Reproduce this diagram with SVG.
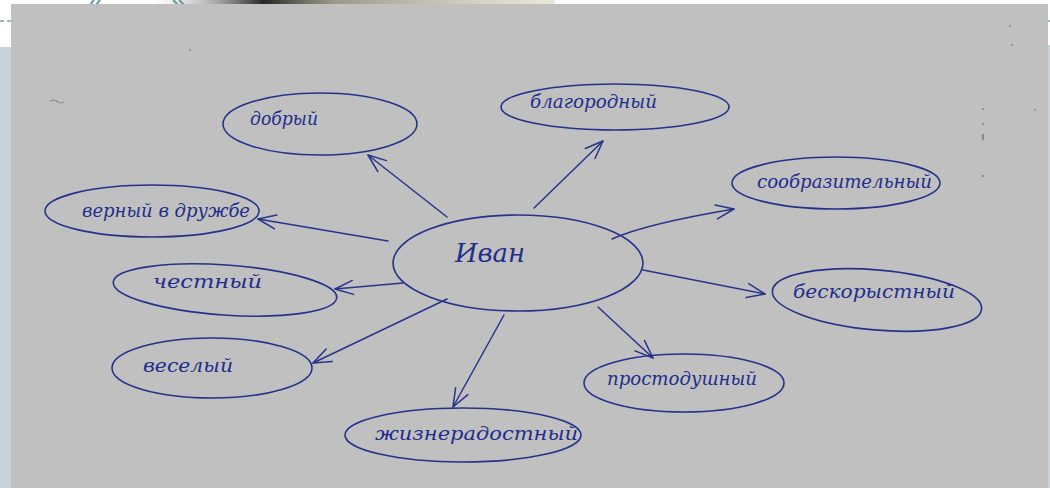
<svg xmlns="http://www.w3.org/2000/svg" width="1050" height="488" viewBox="0 0 1050 488">
  <defs>
    <linearGradient id="bar" x1="0" x2="1" y1="0" y2="0">
      <stop offset="0" stop-color="#c0c0c0" stop-opacity="0"/>
      <stop offset="0.28" stop-color="#1a1a1a" stop-opacity="0.95"/>
      <stop offset="0.45" stop-color="#6b6a55" stop-opacity="0.7"/>
      <stop offset="1" stop-color="#c9c6a0" stop-opacity="0.4"/>
    </linearGradient>
    <marker id="arr" viewBox="0 0 20 20" refX="19" refY="10" markerWidth="20" markerHeight="20" markerUnits="userSpaceOnUse" orient="auto">
      <path d="M1,3 L19,10 L1,17" fill="none" stroke="#28348c" stroke-width="1.5" stroke-linecap="round" stroke-linejoin="round"/>
    </marker>
    <style>
      .node { fill: none; stroke: #25328a; stroke-width: 1.6; }
      .lbl { font-family: "DejaVu Serif", "Liberation Serif", serif; font-style: italic; font-size: 19px; fill: #1f2d8c; }
      .big { font-size: 26px; }
      .conn { fill: none; stroke: #28348c; stroke-width: 1.5; stroke-linecap: round; marker-end: url(#arr); }
      .speck { fill: #8a8a80; }
    </style>
  </defs>

  <!-- background -->
  <rect x="0" y="0" width="1050" height="488" fill="#ffffff"/>
  <rect x="0" y="47" width="11" height="441" fill="#c7d2d9"/>
  <rect x="1048" y="45" width="2" height="443" fill="#c7d2d9"/>
  <line x1="0" y1="21" x2="11" y2="21" stroke="#7fa2a7" stroke-width="1.5" stroke-dasharray="4,3"/>
  <line x1="1048" y1="21" x2="1050" y2="21" stroke="#7fa2a7" stroke-width="1.5"/>
  <path d="M94,0 Q91,3 90,6 M100,0 Q97,3 96,6" fill="none" stroke="#6f9c9f" stroke-width="2.2"/>
  <path d="M173,0 Q177,3 178,6 M179,0 Q183,3 184,6" fill="none" stroke="#6f9c9f" stroke-width="2.2"/>
  <rect x="150" y="0" width="405" height="5" fill="url(#bar)"/>
  <rect x="11" y="4" width="1037" height="484" fill="#c0c0c0"/>

  <!-- specks -->
  <path d="M50,101 q5,-2 8,1 q3,2 6,0" fill="none" stroke="#8c8c88" stroke-width="1.2"/>
  <circle cx="983" cy="109" r="1" class="speck"/>
  <circle cx="983" cy="124" r="1" class="speck"/>
  <rect x="982" y="134" width="2" height="6" class="speck"/>
  <circle cx="983" cy="176" r="1.2" class="speck"/>
  <circle cx="190" cy="50" r="1" class="speck"/>
  <circle cx="1010" cy="26" r="1" class="speck"/>
  <circle cx="1012" cy="45" r="1" class="speck"/>
  <circle cx="1035" cy="110" r="1" class="speck"/>

  <!-- connectors -->
  <g id="connectors">
    <path class="conn" d="M447,217 L368,155"/>
    <path class="conn" d="M534,208 L603,141"/>
    <path class="conn" d="M612,239 Q645,224 734,209"/>
    <path class="conn" d="M388,241 L258,219"/>
    <path class="conn" d="M403,283 L335,289"/>
    <path class="conn" d="M447,299 L313,363"/>
    <path class="conn" d="M504,315 L453,407"/>
    <path class="conn" d="M598,307 L653,358"/>
    <path class="conn" d="M643,270 L765,294"/>
  </g>

  <!-- nodes -->
  <g id="ivan">
    <ellipse class="node" cx="518" cy="263" rx="125" ry="48"/>
    <text class="lbl big" x="455" y="262" textLength="70" lengthAdjust="spacingAndGlyphs">Иван</text>
  </g>
  <g id="dobryi">
    <ellipse class="node" cx="320" cy="124" rx="97" ry="31"/>
    <text class="lbl" x="250" y="125" textLength="68" lengthAdjust="spacingAndGlyphs">добрый</text>
  </g>
  <g id="blagorodnyi">
    <ellipse class="node" cx="615" cy="107" rx="114" ry="23"/>
    <text class="lbl" x="530" y="108" textLength="127" lengthAdjust="spacingAndGlyphs">благородный</text>
  </g>
  <g id="soobrazitelnyi">
    <ellipse class="node" cx="836" cy="183" rx="104" ry="26"/>
    <text class="lbl" x="757" y="188" textLength="175" lengthAdjust="spacingAndGlyphs">сообразительный</text>
  </g>
  <g id="vernyi">
    <ellipse class="node" cx="152" cy="211" rx="107" ry="26"/>
    <text class="lbl" x="82" y="217" textLength="168" lengthAdjust="spacingAndGlyphs">верный в дружбе</text>
  </g>
  <g id="chestnyi">
    <ellipse class="node" cx="225" cy="290" rx="112" ry="25" transform="rotate(4 225 290)"/>
    <text class="lbl" x="153" y="288" textLength="109" lengthAdjust="spacingAndGlyphs">честный</text>
  </g>
  <g id="beskorystnyi">
    <ellipse class="node" cx="877" cy="300" rx="105" ry="30" transform="rotate(5 877 300)"/>
    <text class="lbl" x="793" y="298" textLength="162" lengthAdjust="spacingAndGlyphs">бескорыстный</text>
  </g>
  <g id="veselyi">
    <ellipse class="node" cx="212" cy="368" rx="100" ry="30"/>
    <text class="lbl" x="143" y="372" textLength="90" lengthAdjust="spacingAndGlyphs">веселый</text>
  </g>
  <g id="prostodushnyi">
    <ellipse class="node" cx="684" cy="383" rx="100" ry="29"/>
    <text class="lbl" x="607" y="385" textLength="150" lengthAdjust="spacingAndGlyphs">простодушный</text>
  </g>
  <g id="zhizneradostnyi">
    <ellipse class="node" cx="463" cy="435" rx="118" ry="27"/>
    <text class="lbl" x="375" y="440" textLength="203" lengthAdjust="spacingAndGlyphs">жизнерадостный</text>
  </g>
</svg>
